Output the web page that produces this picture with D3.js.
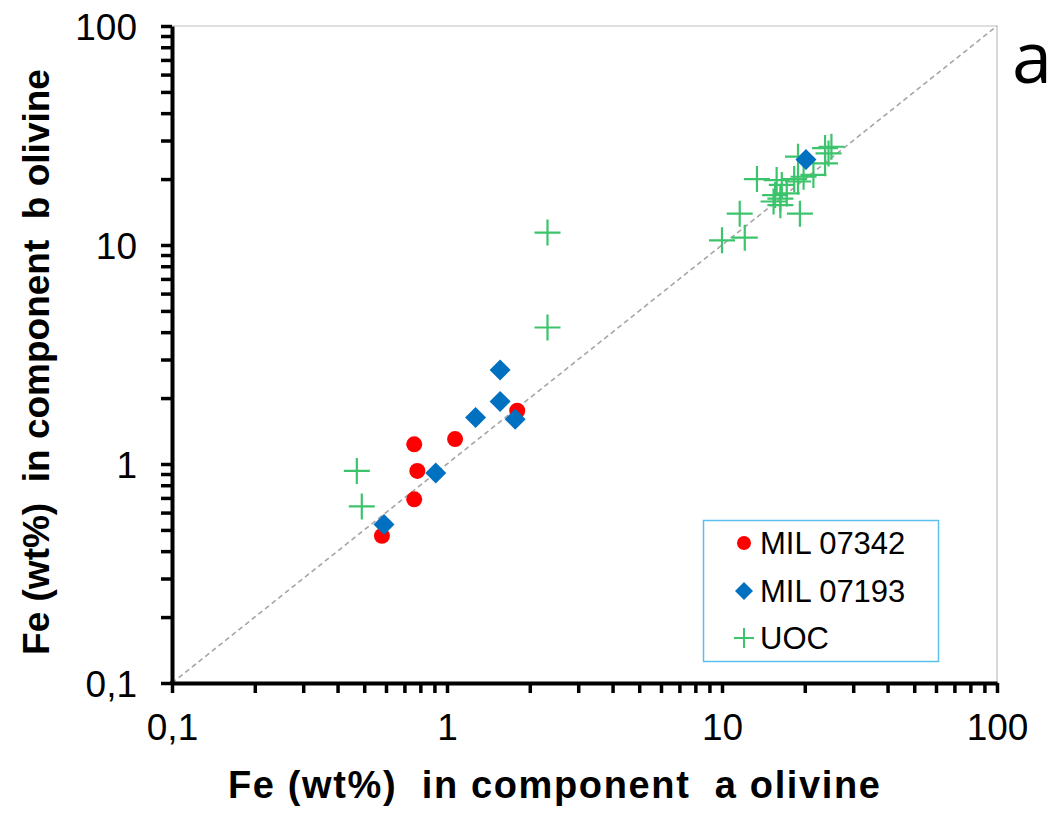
<!DOCTYPE html>
<html><head><meta charset="utf-8">
<script src="https://cdn.jsdelivr.net/npm/d3@7/dist/d3.min.js"></script>
<style>body{margin:0;background:#fff}svg{display:block}</style>
</head><body>
<svg id="c" width="1061" height="814"></svg>
<script>
// Data (Fe wt% in component a, component b)
const mil07342 = [[0.58,0.47],[0.76,1.23],[0.78,0.93],[0.76,0.69],[1.07,1.30],[1.80,1.75]];
const mil07193 = [[0.59,0.53],[0.91,0.91],[1.27,1.63],[1.56,2.69],[1.56,1.93],[1.77,1.60],[20.2,24.6]];
const uoc = [[0.47,0.93],[0.49,0.64],[2.32,11.4],[2.32,4.2],
  [10.0,10.5],[12.1,10.8],[11.6,13.9],[19.2,13.9],[13.4,20.0],[15.8,19.8],[16.5,18.8],
  [15.6,16.9],[16.3,16.3],[17.2,17.2],[15.4,15.8],[16.3,15.2],[18.9,19.5],[19.8,20.5],
  [21.5,20.9],[23.7,23.6],[23.7,27.7],[25.0,28.1],[18.9,25.3],[24.4,26.2],[18.3,20.0]];
const majorTicks = [0.1,1,10,100];
const majorLabels = ["0,1","1","10","100"];
const seriesNames = ["MIL 07342","MIL 07193","UOC"];

const svg = d3.select("#c");
const X0=172, X1=997, Y0=683, Y1=26;
const x = d3.scaleLog().domain([0.1,100]).range([X0,X1]);
const y = d3.scaleLog().domain([0.1,100]).range([Y0,Y1]);

const allTicks = [];
[0.1,1,10].forEach(d=>{for(let k=1;k<10;k++) allTicks.push(+(d*k).toPrecision(3));});
allTicks.push(100);
const fmt = v => { const i = majorTicks.indexOf(v); return i>=0 ? majorLabels[i] : ""; };

// plot border (top/right)
svg.append("path").attr("d",`M${X0},${Y1}H${X1}V${Y0}`).attr("fill","none").attr("stroke","#bfbfbf").attr("stroke-width",1.2);

// 1:1 line
svg.append("line").attr("x1",x(0.1)).attr("y1",y(0.1)).attr("x2",x(100)).attr("y2",y(100))
  .attr("stroke","#a6a6a6").attr("stroke-width",1.6).attr("stroke-dasharray","5,3.5");

// axes
const gx = svg.append("g").attr("transform",`translate(0,${Y0})`)
  .call(d3.axisBottom(x).tickValues(allTicks).tickFormat(fmt).tickSize(10).tickSizeOuter(0).tickPadding(21));
const gy = svg.append("g").attr("transform",`translate(${X0},0)`)
  .call(d3.axisLeft(y).tickValues(allTicks).tickFormat(fmt).tickSize(11).tickSizeOuter(0).tickPadding(24));
[gx,gy].forEach(g=>{
  g.select(".domain").attr("stroke","#000").attr("stroke-width",4);
  g.selectAll(".tick line").attr("stroke","#000").attr("stroke-width",3.5);
  g.selectAll(".tick text").attr("fill","#000").attr("font-family","Liberation Sans, Arial, sans-serif").attr("font-size",37);
});
gx.selectAll(".tick text").attr("dy","0.71em");
gy.selectAll(".tick text").attr("dy","0.36em");
svg.append("line").attr("x1",X0-2).attr("x2",X0+2).attr("y1",Y0).attr("y2",Y0).attr("stroke","#000").attr("stroke-width",4);

// markers
const plot = svg.append("g");
plot.selectAll(".uoc").data(uoc).join("path").attr("class","uoc")
  .attr("d",d=>{const cx=x(d[0]),cy=y(d[1]);return `M${cx-13},${cy}H${cx+13}M${cx},${cy-13}V${cy+13}`;})
  .attr("stroke","#3cc46c").attr("stroke-width",2.2).attr("fill","none");
plot.selectAll(".r").data(mil07342).join("circle").attr("class","r")
  .attr("cx",d=>x(d[0])).attr("cy",d=>y(d[1])).attr("r",8).attr("fill","#ff0000");
plot.selectAll(".b").data(mil07193).join("path").attr("class","b")
  .attr("d",d=>{const cx=x(d[0]),cy=y(d[1]),h=10.5;return `M${cx},${cy-h}L${cx+h},${cy}L${cx},${cy+h}L${cx-h},${cy}Z`;})
  .attr("fill","#0070c0");

// legend
const lg = svg.append("g");
lg.append("rect").attr("x",703.5).attr("y",520.5).attr("width",235).attr("height",141)
  .attr("fill","#fff").attr("stroke","#5bc0eb").attr("stroke-width",1.5);
const ly = [543,591,638];
lg.append("circle").attr("cx",744).attr("cy",ly[0]).attr("r",7).attr("fill","#ff0000");
lg.append("path").attr("d",`M744,${ly[1]-9}L753,${ly[1]}L744,${ly[1]+9}L735,${ly[1]}Z`).attr("fill","#0070c0");
lg.append("path").attr("d",`M734,${ly[2]}H754M744,${ly[2]-10}V${ly[2]+10}`).attr("stroke","#3cc46c").attr("stroke-width",2);
lg.selectAll("text.l").data(seriesNames).join("text").attr("class","l")
  .attr("x",760).attr("y",(d,i)=>ly[i]).attr("dy","0.36em")
  .attr("font-family","Liberation Sans, Arial, sans-serif").attr("font-size",31).attr("fill","#000").text(d=>d);

// axis titles
svg.append("text").attr("x",228).attr("y",798)
  .attr("font-family","Liberation Sans, Arial, sans-serif")
  .attr("font-weight","bold").attr("font-size",38).attr("fill","#000").attr("xml:space","preserve")
  .attr("textLength",652).attr("lengthAdjust","spacing")
  .text("Fe (wt%)  in component  a olivine");
svg.append("text").attr("transform","translate(49,362) rotate(-90)")
  .attr("text-anchor","middle").attr("font-family","Liberation Sans, Arial, sans-serif")
  .attr("font-weight","bold").attr("font-size",37).attr("fill","#000").attr("xml:space","preserve")
  .text("Fe (wt%)  in component  b olivine");

// panel label
svg.append("text").attr("x",1012).attr("y",83)
  .attr("font-family","Open Sans, sans-serif").attr("font-size",72).attr("fill","#000").text("a");
</script>
</body></html>
